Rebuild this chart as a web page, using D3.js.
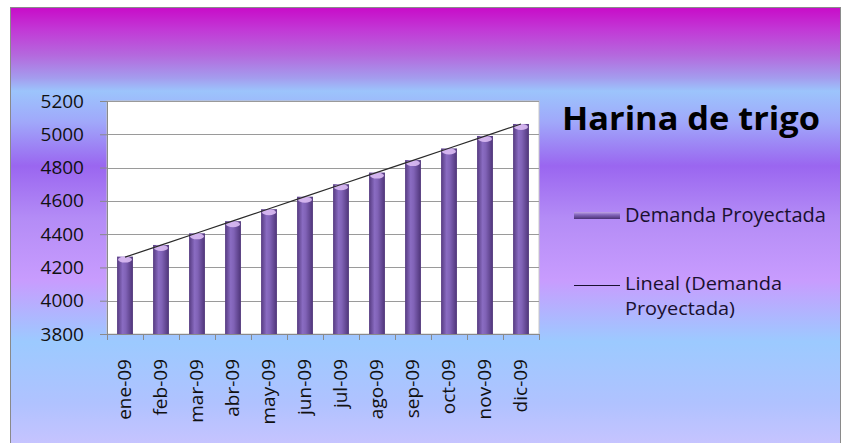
<!DOCTYPE html>
<html>
<head>
<meta charset="utf-8">
<script src="https://cdn.jsdelivr.net/npm/d3@7"></script>
<style>
  body { margin: 0; background: #fff; }
  text { font-family: "Open Sans", "Noto Sans", sans-serif; }
</style>
</head>
<body>
<script>
var width = 843;
var height = 443;

// datos
var months = ["ene-09", "feb-09", "mar-09", "abr-09", "may-09", "jun-09",
              "jul-09", "ago-09", "sep-09", "oct-09", "nov-09", "dic-09"];
var demanda = [4265, 4335, 4405, 4478, 4550, 4625, 4700, 4770, 4845, 4915, 4990, 5062];
var yTicks = [3800, 4000, 4200, 4400, 4600, 4800, 5000, 5200];

var svg = d3.select("body")
  .append("svg")
  .attr("width", width)
  .attr("height", height);

var defs = svg.append("defs");

// fondo degradado
var bg = defs.append("linearGradient")
  .attr("id", "bg")
  .attr("x1", 0).attr("y1", 0).attr("x2", 0).attr("y2", 1);
[[0, "#c80cc8"], [0.05, "#c238d6"], [0.11, "#b46ade"], [0.16, "#a49cee"],
 [0.19, "#9cc4fc"], [0.26, "#a0a8fa"], [0.36, "#9a66f0"], [0.48, "#b48cf6"],
 [0.62, "#c89cfe"], [0.76, "#9ccaff"], [0.9, "#b0c2ff"], [1, "#c8c4ff"]]
  .forEach(function(s) {
    bg.append("stop").attr("offset", s[0]).attr("stop-color", s[1]);
  });

// barras tipo cilindro
var barGrad = defs.append("linearGradient")
  .attr("id", "barGrad")
  .attr("x1", 0).attr("y1", 0).attr("x2", 1).attr("y2", 0);
[[0, "#553a80"], [0.35, "#8a6cc2"], [0.55, "#8062b6"], [1, "#4e3478"]]
  .forEach(function(s) {
    barGrad.append("stop").attr("offset", s[0]).attr("stop-color", s[1]);
  });

var legGrad = defs.append("linearGradient")
  .attr("id", "legGrad")
  .attr("x1", 0).attr("y1", 0).attr("x2", 0).attr("y2", 1);
[[0, "#c0a4e6"], [0.4, "#8466bc"], [1, "#4a3174"]]
  .forEach(function(s) {
    legGrad.append("stop").attr("offset", s[0]).attr("stop-color", s[1]);
  });

svg.append("rect")
  .attr("x", 10.5).attr("y", 7.5)
  .attr("width", 830).attr("height", 440)
  .attr("fill", "url(#bg)")
  .attr("stroke", "#8a8a8a")
  .attr("stroke-width", 1);

var margin = { left: 107, top: 101, right: 539, bottom: 334 };

var x = d3.scaleBand()
  .domain(months)
  .range([margin.left, margin.right])
  .paddingInner(0.56)
  .paddingOuter(0.28);

var y = d3.scaleLinear()
  .domain([3800, 5200])
  .range([margin.bottom, margin.top]);

// area de trazado
svg.append("rect")
  .attr("x", margin.left).attr("y", margin.top)
  .attr("width", margin.right - margin.left)
  .attr("height", margin.bottom - margin.top)
  .attr("fill", "#ffffff")
  .attr("stroke", "#c8c8c8");

svg.append("g")
  .selectAll("line")
  .data(yTicks)
  .enter().append("line")
    .attr("x1", margin.left).attr("x2", margin.right)
    .attr("y1", function(d) { return Math.round(y(d)) + 0.5; })
    .attr("y2", function(d) { return Math.round(y(d)) + 0.5; })
    .attr("stroke", "#9a9a9a")
    .attr("stroke-width", 1);

// eje y
var yAxis = svg.append("g")
  .attr("transform", "translate(" + margin.left + ",0)")
  .call(d3.axisLeft(y).tickValues(yTicks).tickFormat(d3.format("d")).tickSize(7).tickPadding(16));
yAxis.select(".domain").attr("stroke", "#8a8a8a");
yAxis.selectAll(".tick line").attr("stroke", "#8a8a8a");
yAxis.selectAll("text")
  .attr("font-size", 19)
  .attr("fill", "#111")
  .attr("font-family", "Open Sans");

// barras
var bars = svg.append("g")
  .selectAll("g")
  .data(demanda)
  .enter().append("g");

bars.append("rect")
  .attr("x", function(d, i) { return x(months[i]); })
  .attr("y", function(d) { return y(d); })
  .attr("width", x.bandwidth())
  .attr("height", function(d) { return y(3800) - y(d); })
  .attr("fill", "url(#barGrad)");

bars.append("ellipse")
  .attr("cx", function(d, i) { return x(months[i]) + x.bandwidth() / 2; })
  .attr("cy", function(d) { return y(d) + 3; })
  .attr("rx", x.bandwidth() / 2 - 1)
  .attr("ry", 3)
  .attr("fill", "#dcbcf4")
  .attr("opacity", 0.9);

// eje x
var xAxis = svg.append("g")
  .attr("transform", "translate(0," + margin.bottom + ")")
  .call(d3.axisBottom(x).tickSize(0).tickPadding(0));
xAxis.select(".domain").attr("stroke", "#8a8a8a");
xAxis.selectAll(".tick text")
  .attr("font-size", 19)
  .attr("fill", "#111")
  .attr("text-anchor", "end")
  .attr("transform", "translate(6,25) rotate(-90)")
  .attr("dy", null)
  .attr("y", 0)
  .attr("x", 0);

var bounds = months.map(function(m) { return x(m) - x.step() * x.paddingInner() / 2; });
bounds.push(margin.right);
svg.append("g")
  .selectAll("line")
  .data(bounds)
  .enter().append("line")
    .attr("x1", function(d) { return Math.round(d) + 0.5; })
    .attr("x2", function(d) { return Math.round(d) + 0.5; })
    .attr("y1", margin.bottom)
    .attr("y2", margin.bottom + 6)
    .attr("stroke", "#8a8a8a");

// tendencia lineal (minimos cuadrados)
var n = demanda.length;
var mx = d3.mean(d3.range(n));
var my = d3.mean(demanda);
var slope = d3.sum(d3.range(n), function(i) { return (i - mx) * (demanda[i] - my); }) /
            d3.sum(d3.range(n), function(i) { return (i - mx) * (i - mx); });
var icpt = my - slope * mx;

var trend = d3.line()
  .x(function(i) { return x(months[i]) + x.bandwidth() / 2; })
  .y(function(i) { return y(icpt + slope * i); });

svg.append("path")
  .datum(d3.range(n))
  .attr("d", trend)
  .attr("fill", "none")
  .attr("stroke", "#2a2a2a")
  .attr("stroke-width", 1.2);

// titulo
svg.append("text")
  .attr("x", 562).attr("y", 130)
  .attr("font-size", 32)
  .attr("font-weight", "bold")
  .attr("fill", "#000")
  .attr("textLength", 258)
  .attr("lengthAdjust", "spacingAndGlyphs")
  .text("Harina de trigo");

// leyenda
svg.append("rect")
  .attr("x", 574).attr("y", 212)
  .attr("width", 46).attr("height", 7)
  .attr("fill", "url(#legGrad)");

svg.append("text")
  .attr("x", 625).attr("y", 222)
  .attr("font-size", 19.5)
  .attr("fill", "#1a1030")
  .attr("textLength", 201)
  .attr("lengthAdjust", "spacingAndGlyphs")
  .text("Demanda Proyectada");

svg.append("line")
  .attr("x1", 574).attr("x2", 620)
  .attr("y1", 285.5).attr("y2", 285.5)
  .attr("stroke", "#1a1030")
  .attr("stroke-width", 1.2);

svg.append("text")
  .attr("x", 625).attr("y", 290)
  .attr("font-size", 18)
  .attr("fill", "#1a1030")
  .attr("textLength", 157)
  .attr("lengthAdjust", "spacingAndGlyphs")
  .text("Lineal (Demanda");

svg.append("text")
  .attr("x", 625).attr("y", 315)
  .attr("font-size", 18)
  .attr("fill", "#1a1030")
  .attr("textLength", 110)
  .attr("lengthAdjust", "spacingAndGlyphs")
  .text("Proyectada)");
</script>
</body>
</html>
